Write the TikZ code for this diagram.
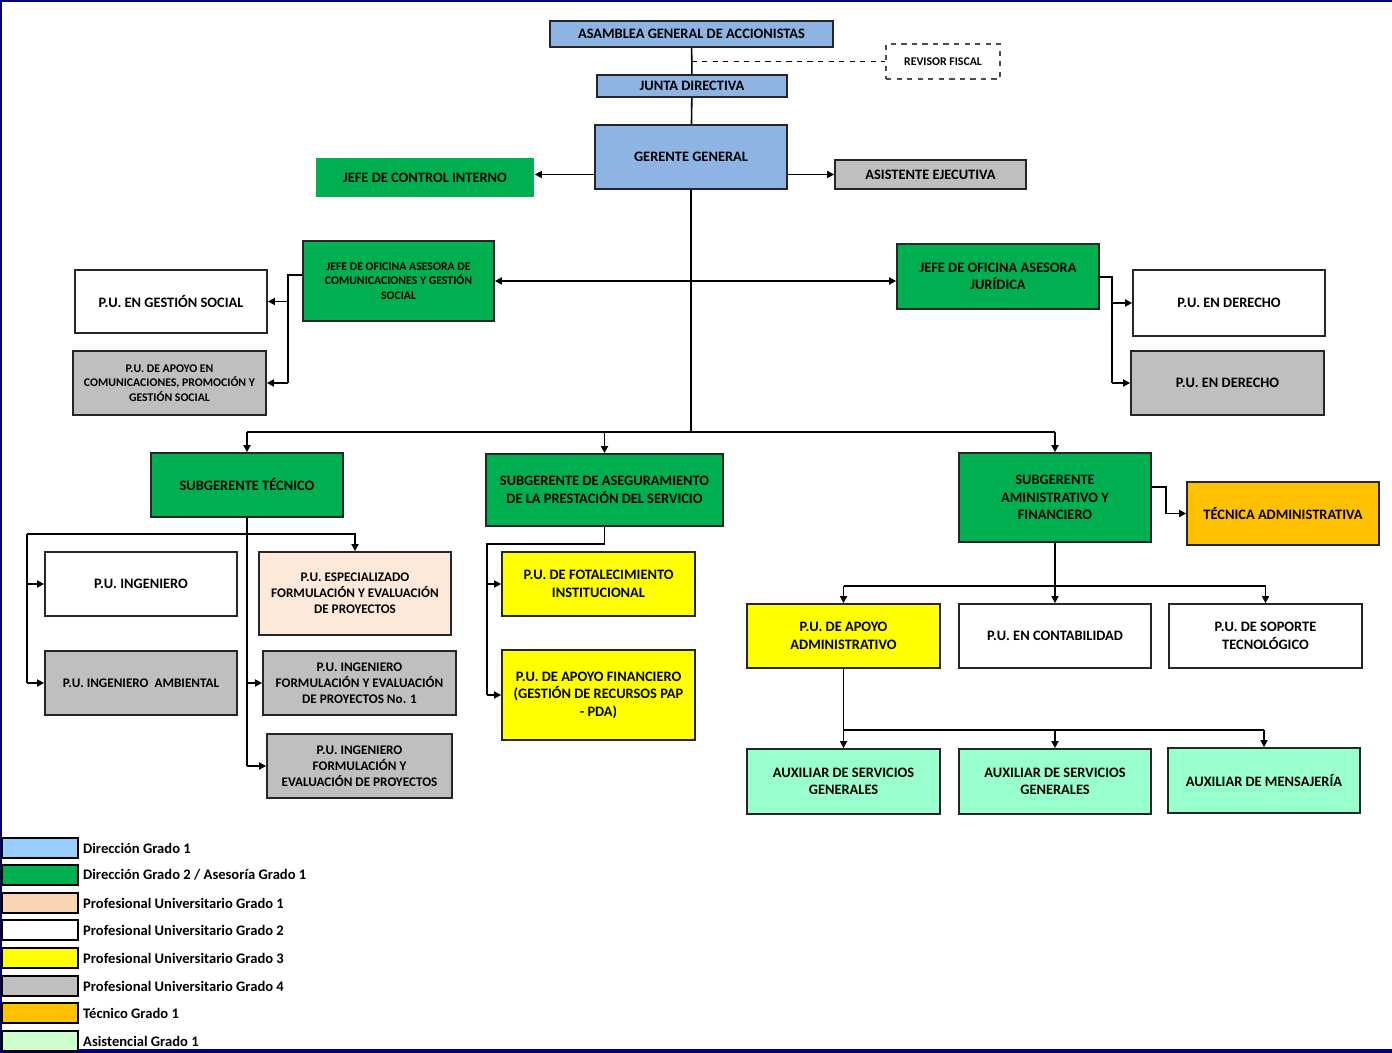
\documentclass[tikz,border=0pt]{standalone}
\usepackage{fontspec}
\setmainfont{Carlito}
\usepackage{tikz}
\usetikzlibrary{arrows.meta}
\definecolor{dirazul}{HTML}{8DB4E2}
\definecolor{legazul}{HTML}{99CCFF}
\definecolor{verde}{HTML}{00B050}
\definecolor{gris}{HTML}{BFBFBF}
\definecolor{durazno}{HTML}{FDE9D9}
\definecolor{legdurazno}{HTML}{FBD4B4}
\definecolor{amarillo}{HTML}{FFFF00}
\definecolor{naranja}{HTML}{FFC000}
\definecolor{menta}{HTML}{99FFCC}
\definecolor{legmenta}{HTML}{CCFFCC}
\definecolor{marco}{HTML}{000080}
\tikzstyle{box} = [draw=black!85, line width=1pt, align=center, inner sep=1pt, font=\bfseries\fontsize{8.2}{10}\selectfont]
\tikzstyle{small} = [font=\bfseries\fontsize{6.7}{8.2}\selectfont]
\tikzstyle{mid} = [font=\bfseries\fontsize{7.5}{9.1}\selectfont]
\tikzstyle{swatch} = [draw=black, line width=1pt, minimum width=1.52cm, minimum height=0.4cm, inner sep=0pt]
\tikzstyle{legtext} = [anchor=west, inner sep=0pt, font=\bfseries\fontsize{8.3}{10}\selectfont]
\tikzstyle{arr} = [-{Triangle[length=4pt,width=4pt]}, line width=0.9pt]
\tikzstyle{line} = [line width=0.9pt]
\tikzset{sz/.style 2 args={minimum width=#1*0.02cm, minimum height=#2*0.02cm}}

\begin{document}
\begin{tikzpicture}[x=0.02cm, y=-0.02cm]
	\useasboundingbox (0,0) rectangle (1392,1053);
	\draw[marco, line width=1pt] (1,1050) -- (1,1) -- (1392,1);
	\draw[marco, line width=2pt] (0,1051) -- (1392,1051);

	\node[box, fill=dirazul, sz={283}{26}] (asamblea) at (691.5,34) {ASAMBLEA GENERAL DE ACCIONISTAS};
	\node[box, small, draw=black!70, dashed, line width=0.6pt, sz={114}{35}] (revisor) at (943,61.5) {REVISOR FISCAL};
	\node[box, fill=dirazul, sz={190}{22}] (junta) at (692,86) {JUNTA DIRECTIVA};
	\node[box, fill=dirazul, sz={192}{64}] (gerente) at (691,157) {GERENTE GENERAL};
	\node[box, draw=none, fill=verde, sz={218}{39}] (control) at (425,177.5) {JEFE DE CONTROL INTERNO};
	\node[box, fill=gris, sz={191}{29}] (asistente) at (930.5,174.5) {ASISTENTE EJECUTIVA};

	\node[box, small, fill=verde, sz={191}{80}] (ofcom) at (398.5,281) {JEFE DE OFICINA ASESORA DE\\COMUNICACIONES Y GESTIÓN\\SOCIAL};
	\node[box, sz={192}{63}] (gsocial) at (171,301.5) {P.U. EN GESTIÓN SOCIAL};
	\node[box, small, fill=gris, sz={193}{64}] (apoyocom) at (169.5,383) {P.U. DE APOYO EN\\COMUNICACIONES, PROMOCIÓN Y\\GESTIÓN SOCIAL};
	\node[box, fill=verde, sz={202}{65}] (ofjur) at (998,276.5) {JEFE DE OFICINA ASESORA\\JURÍDICA};
	\node[box, sz={192}{66}] (derecho) at (1229,303) {P.U. EN DERECHO};
	\node[box, fill=gris, sz={193}{64}] (derechodos) at (1227.5,383) {P.U. EN DERECHO};

	\node[box, fill=verde, sz={192}{64}] (subtec) at (247,485) {SUBGERENTE TÉCNICO};
	\node[box, fill=verde, sz={237}{72}] (subaseg) at (604.5,490) {SUBGERENTE DE ASEGURAMIENTO\\DE LA PRESTACIÓN DEL SERVICIO};
	\node[box, fill=verde, sz={192}{89}] (subadm) at (1055,497.5) {SUBGERENTE\\AMINISTRATIVO Y\\FINANCIERO};
	\node[box, fill=naranja, sz={192}{63}] (tecnica) at (1283,513.5) {TÉCNICA ADMINISTRATIVA};

	\node[box, sz={192}{64}] (ing) at (141,584) {P.U. INGENIERO};
	\node[box, mid, fill=durazno, sz={192}{83}] (especial) at (355,593.5) {P.U. ESPECIALIZADO\\FORMULACIÓN Y EVALUACIÓN\\DE PROYECTOS};
	\node[box, mid, fill=gris, sz={192}{64}] (ambiental) at (141,683) {P.U. INGENIERO \ AMBIENTAL};
	\node[box, mid, fill=gris, sz={193}{64}] (formuno) at (359.5,683) {P.U. INGENIERO\\FORMULACIÓN Y EVALUACIÓN\\DE PROYECTOS No. 1};
	\node[box, mid, fill=gris, sz={185}{64}] (form) at (359.5,766) {P.U. INGENIERO\\FORMULACIÓN Y\\EVALUACIÓN DE PROYECTOS};

	\node[box, fill=amarillo, sz={193}{64}] (fortal) at (598.5,584) {P.U. DE FOTALECIMIENTO\\INSTITUCIONAL};
	\node[box, fill=amarillo, sz={193}{90}] (financ) at (598.5,695) {P.U. DE APOYO FINANCIERO\\(GESTIÓN DE RECURSOS PAP\\- PDA)};

	\node[box, fill=amarillo, sz={193}{64}] (apoyoadm) at (843.5,636) {P.U. DE APOYO\\ADMINISTRATIVO};
	\node[box, sz={192}{64}] (contab) at (1055,636) {P.U. EN CONTABILIDAD};
	\node[box, sz={193}{64}] (soporte) at (1265.5,636) {P.U. DE SOPORTE\\TECNOLÓGICO};
	\node[box, fill=menta, sz={193}{65}] (auxuno) at (843.5,781.5) {AUXILIAR DE SERVICIOS\\GENERALES};
	\node[box, fill=menta, sz={192}{65}] (auxdos) at (1055,781.5) {AUXILIAR DE SERVICIOS\\GENERALES};
	\node[box, fill=menta, sz={192}{65}] (mensaj) at (1264,780.5) {AUXILIAR DE MENSAJERÍA};

	\coordinate (bus) at (692,432);
	\coordinate (lcom) at (288,275);
	\coordinate (ljur) at (1112,277);
	\coordinate (ltec) at (27,534);
	\coordinate (lase) at (487,544);
	\coordinate (ladm) at (1166,487);
	\coordinate (busadm) at (1055,586);
	\coordinate (busaux) at (844,730);

	\draw[line] (asamblea) -- (junta);
	\draw[line] (junta) -- (gerente);
	\draw[dashed, line width=0.6pt] (asamblea.south |- revisor.west) -- (revisor.west);
	\draw[arr] (gerente.west |- asistente) -- (control.east |- asistente);
	\draw[arr] (gerente.east |- asistente) -- (asistente.west);
	\draw[line] (gerente.south) -- (gerente.south |- bus);
	\draw[line] (bus -| subtec.north) -- (bus -| subadm.north);
	\draw[arr] (bus -| subtec.north) -- (subtec.north);
	\draw[arr] (bus -| subaseg.north) -- (subaseg.north);
	\draw[arr] (bus -| subadm.north) -- (subadm.north);
	\draw[{Triangle[length=4pt,width=4pt]}-{Triangle[length=4pt,width=4pt]}, line width=0.9pt] (ofcom.east) -- (ofjur.west |- ofcom.east);

	\draw[line] (ofcom.west |- lcom) -- (lcom) -- (lcom |- apoyocom.east);
	\draw[arr] (lcom |- gsocial.east) -- (gsocial.east);
	\draw[arr] (lcom |- apoyocom.east) -- (apoyocom.east);
	\draw[line] (ofjur.east |- ljur) -- (ljur) -- (ljur |- derechodos.west);
	\draw[arr] (ljur |- derecho.west) -- (derecho.west);
	\draw[arr] (ljur |- derechodos.west) -- (derechodos.west);

	\draw[line width=0.6pt] (subtec.south) -- (subtec.south |- form.west);
	\draw[arr] (subtec.south |- formuno.west) -- (formuno.west);
	\draw[arr] (subtec.south |- form.west) -- (form.west);
	\draw[arr] (ltec) -- (ltec -| especial.north) -- (especial.north);
	\draw[line] (ltec) -- (ltec |- ambiental.west);
	\draw[arr] (ltec |- ing.west) -- (ing.west);
	\draw[arr] (ltec |- ambiental.west) -- (ambiental.west);

	\draw[line] (subaseg.south) -- (subaseg.south |- lase) -- (lase) -- (lase |- financ.west);
	\draw[arr] (lase |- fortal.west) -- (fortal.west);
	\draw[arr] (lase |- financ.west) -- (financ.west);

	\draw[arr] (subadm.east |- ladm) -- (ladm) |- (tecnica.west);
	\draw[arr] (subadm.south) -- (contab.north);
	\draw[line] (apoyoadm.north |- busadm) -- (soporte.north |- busadm);
	\draw[arr] (apoyoadm.north |- busadm) -- (apoyoadm.north);
	\draw[arr] (soporte.north |- busadm) -- (soporte.north);
	\draw[arr] (apoyoadm.south) -- (auxuno.north);
	\draw[line] (auxuno.north |- busaux) -- (mensaj.north |- busaux);
	\draw[arr] (auxdos.north |- busaux) -- (auxdos.north);
	\draw[arr] (mensaj.north |- busaux) -- (mensaj.north);

	\node[swatch, fill=legazul] (leguno) at (40,848) {};
	\node[swatch, fill=verde] (legdos) at (40,875) {};
	\node[swatch, fill=legdurazno] (legtres) at (40,903) {};
	\node[swatch, fill=white] (legcuatro) at (40,930) {};
	\node[swatch, fill=amarillo] (legcinco) at (40,958) {};
	\node[swatch, fill=gris] (legseis) at (40,986) {};
	\node[swatch, fill=naranja] (legsiete) at (40,1013) {};
	\node[swatch, fill=legmenta] (legocho) at (40,1041) {};
	\node[legtext] at ([xshift=0.08cm]leguno.east) {Dirección Grado 1};
	\node[legtext] at ([xshift=0.08cm]legdos.east) {Dirección Grado 2 / Asesoría Grado 1};
	\node[legtext] at ([xshift=0.08cm]legtres.east) {Profesional Universitario Grado 1};
	\node[legtext] at ([xshift=0.08cm]legcuatro.east) {Profesional Universitario Grado 2};
	\node[legtext] at ([xshift=0.08cm]legcinco.east) {Profesional Universitario Grado 3};
	\node[legtext] at ([xshift=0.08cm]legseis.east) {Profesional Universitario Grado 4};
	\node[legtext] at ([xshift=0.08cm]legsiete.east) {Técnico Grado 1};
	\node[legtext] at ([xshift=0.08cm]legocho.east) {Asistencial Grado 1};
\end{tikzpicture}
\end{document}
